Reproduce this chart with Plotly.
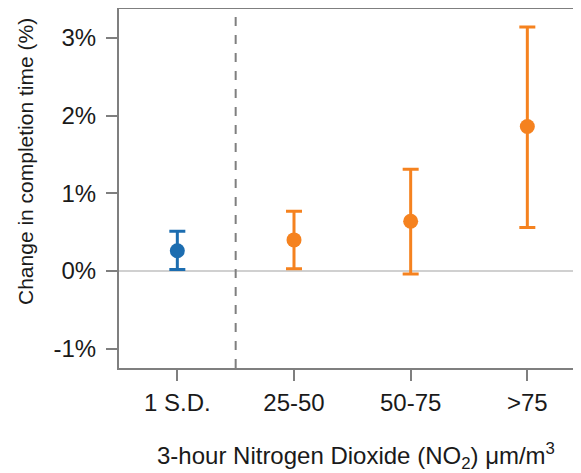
import plotly.graph_objects as go

categories = ["1 S.D.", "25-50", "50-75", ">75"]
estimates = [0.26, 0.40, 0.64, 1.86]
upper = [0.51, 0.77, 1.31, 3.14]
lower = [0.02, 0.03, -0.04, 0.56]
colors = ["#1c6db0", "#f5821f", "#f5821f", "#f5821f"]
y_ticks = [-1, 0, 1, 2, 3]
y_tick_labels = ["-1%", "0%", "1%", "2%", "3%"]

# page body has an 8px margin; figure is placed at (8, 8)
OFF = 8
W, H = 581 - OFF, 473 - OFF
ml, mr, mt, mb = 119 - OFF, 0, 9 - OFF, 105
pw = W - ml - mr
ph = H - mt - mb
plot_bottom = H - mb

fig = go.Figure()
groups = [("blue", [0]), ("orange", [1, 2, 3])]
for name, idx in groups:
    fig.add_trace(go.Scatter(
        x=idx,
        y=[estimates[i] for i in idx],
        mode="markers",
        marker=dict(color=colors[idx[0]], size=15),
        error_y=dict(
            type="data", symmetric=False,
            array=[upper[i] - estimates[i] for i in idx],
            arrayminus=[estimates[i] - lower[i] for i in idx],
            color=colors[idx[0]], thickness=3, width=8,
        ),
        showlegend=False,
    ))

fig.add_shape(type="line", xref="x", yref="paper", x0=0.5, x1=0.5, y0=0, y1=1,
              line=dict(color="#7f7f7f", width=2, dash="dash"))

font_family = "Liberation Sans, Arial, sans-serif"
txt = "#1a1a1a"
fig.update_layout(
    width=W, height=H,
    margin=dict(l=ml, r=mr, t=mt, b=mb),
    plot_bgcolor="white", paper_bgcolor="white",
    font=dict(family=font_family, color=txt),
    xaxis=dict(
        range=[-0.5, 3.46],
        tickvals=list(range(len(categories))),
        ticktext=categories,
        showgrid=False, zeroline=False,
        showline=True, linecolor="#7f7f7f", linewidth=2, mirror=True,
        ticks="outside", ticklen=11, tickwidth=2, tickcolor="#7f7f7f",
        tickfont=dict(size=24, color=txt),
        ticklabelstandoff=1,
    ),
    yaxis=dict(
        range=[-1.249, 3.373],
        tickvals=y_ticks, ticktext=y_tick_labels,
        showgrid=False,
        zeroline=True, zerolinecolor="#d0d0d0", zerolinewidth=2,
        showline=True, linecolor="#7f7f7f", linewidth=2,
        ticks="outside", ticklen=11, tickwidth=2, tickcolor="#7f7f7f",
        tickfont=dict(size=24, color=txt),
        ticklabelstandoff=5,
    ),
    annotations=[
        dict(text="Change in completion time (%)", xref="paper", yref="paper",
             x=(25 - OFF - ml) / pw, y=(plot_bottom - (162 - OFF)) / ph,
             xanchor="center", yanchor="middle",
             textangle=-90, showarrow=False, font=dict(size=21, color=txt)),
        dict(text="3-hour Nitrogen Dioxide (NO<sub>2</sub>) μm/m<sup>3</sup>", xref="paper", yref="paper",
             x=(356 - OFF - ml) / pw, y=(plot_bottom - (456 - OFF)) / ph,
             xanchor="center", yanchor="middle",
             showarrow=False, font=dict(size=24, color=txt)),
    ],
)

fig.write_html("out.html")
